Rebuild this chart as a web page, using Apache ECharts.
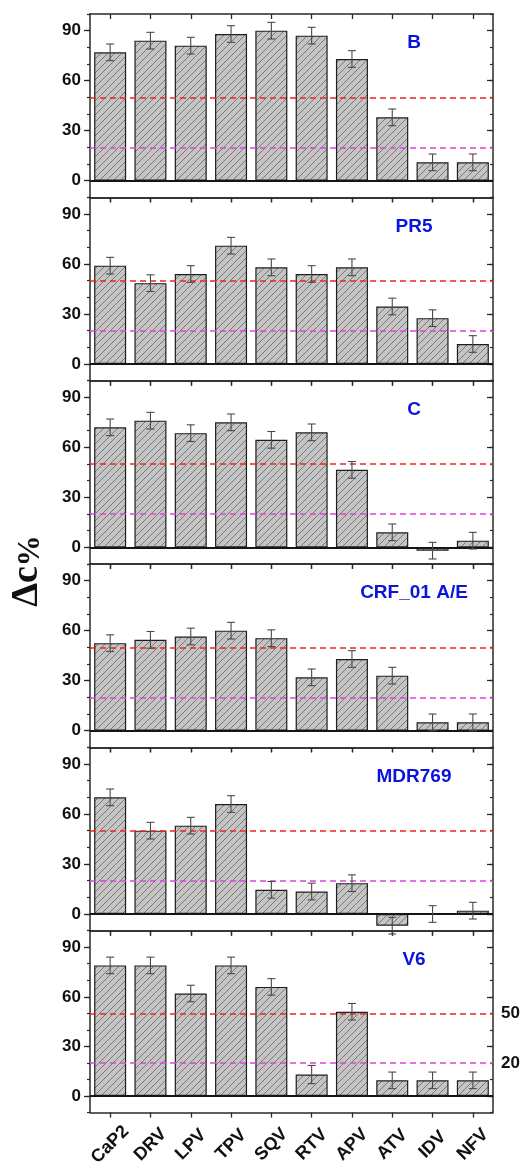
<!DOCTYPE html>
<html>
<head>
<meta charset="utf-8">
<script src="https://cdn.jsdelivr.net/npm/echarts@6/dist/echarts.min.js"></script>
<style>
html,body{margin:0;padding:0;background:#fff;}
#chart{width:527px;height:1169px;}
</style>
</head>
<body>
<div id="chart"></div>
<script>
// ---- data ----
const categories = ['CaP2','DRV','LPV','TPV','SQV','RTV','APV','ATV','IDV','NFV'];
const panelNames = ['B','PR5','C','CRF_01 A/E','MDR769','V6'];
const valuesB      = [77, 84, 81, 88, 90, 87, 73, 38, 11, 11];
const valuesPR5    = [59, 48.5, 54, 71, 58, 54, 58, 34.5, 27.5, 12];
const valuesC      = [72, 76, 68.5, 75, 64.5, 69, 46.5, 9, -2, 4];
const valuesCRF    = [52.5, 54.5, 56.5, 60, 55.5, 32, 43, 33, 5, 5];
const valuesMDR769 = [70, 50, 53, 66, 14.5, 13.5, 18.5, -7, 0, 2];
const valuesV6     = [79, 79, 62, 79, 66, 13, 51, 9.5, 9.5, 9.5];
const errorsB      = [5, 5, 5, 5, 5, 5, 5, 5, 5, 5];
const errorsPR5    = [5, 5, 5, 5, 5, 5, 5, 5, 5, 5];
const errorsC      = [5, 5, 5, 5, 5, 5, 5, 5, 5, 5];
const errorsCRF    = [5, 5, 5, 5, 5, 5, 5, 5, 5, 5];
const errorsMDR769 = [5, 5, 5, 5, 5, 5, 5, 5, 5, 5];
const errorsV6     = [5, 5, 5, 5, 5, 5.5, 5, 5, 5, 5];
const yTickLabels = [0, 30, 60, 90];
const thresholdHigh = 50;
const thresholdLow = 20;

const panelValues = [valuesB, valuesPR5, valuesC, valuesCRF, valuesMDR769, valuesV6];
const panelErrors = [errorsB, errorsPR5, errorsC, errorsCRF, errorsMDR769, errorsV6];

// ---- hatch pattern ----
function makeHatch(){
  const s = 7;
  const c = document.createElement('canvas');
  c.width = s; c.height = s;
  const g = c.getContext('2d');
  g.fillStyle = '#c4c4c4';
  g.fillRect(0,0,s,s);
  g.strokeStyle = '#606060';
  g.lineWidth = 0.75;
  g.beginPath();
  g.moveTo(-1, s+1); g.lineTo(s+1, -1);
  g.moveTo(-1, 1); g.lineTo(1, -1);
  g.moveTo(s-1, s+1); g.lineTo(s+1, s-1);
  g.stroke();
  return c;
}
const hatch = makeHatch();

const chart = echarts.init(document.getElementById('chart'), null, {renderer:'canvas'});

const N = panelNames.length;
const TOP = 14, PH = 1100 / 6, LEFT = 90, RIGHT = 34;
const axisColor = '#2a2a2a';
const FONT = 'Liberation Sans, Arial, sans-serif';

const grids = [], xAxes = [], yAxes = [], series = [], graphics = [];

for (let i = 0; i < N; i++) {
  const top = TOP + i * PH;
  grids.push({left: LEFT, right: RIGHT, top: top, height: PH, containLabel: false});
  const last = i === N - 1;
  // bottom x axis
  xAxes.push({
    type: 'category', gridIndex: i, data: categories, position: 'bottom',
    boundaryGap: true,
    axisLine: {show: true, onZero: false, lineStyle: {color: axisColor, width: 1.5}},
    axisTick: {show: true, alignWithLabel: true, inside: false, length: 5, lineStyle: {color: axisColor, width: 1.3}},
    axisLabel: last ? {
      show: true, rotate: 45, interval: 0, align: 'center', verticalAlign: 'middle', margin: 32,
      fontFamily: FONT, fontWeight: 'bold', fontSize: 18, color: '#111'
    } : {show: false},
    splitLine: {show: false}
  });
  // top x axis
  xAxes.push({
    type: 'category', gridIndex: i, data: categories, position: 'top',
    boundaryGap: true,
    axisLine: {show: true, onZero: false, lineStyle: {color: axisColor, width: 1.5}},
    axisTick: {show: true, alignWithLabel: true, inside: true, length: 5, lineStyle: {color: axisColor, width: 1.3}},
    axisLabel: {show: false},
    splitLine: {show: false}
  });
  const yBase = {type: 'value', gridIndex: i, min: -10, max: 100, splitLine: {show: false}};
  // left main (minor ticks + labels)
  yAxes.push(Object.assign({}, yBase, {
    position: 'left', interval: 10,
    axisLine: {show: true, onZero: false, lineStyle: {color: axisColor, width: 1.5}},
    axisTick: {show: true, inside: false, length: 3, lineStyle: {color: axisColor, width: 1.2}},
    axisLabel: {show: true, margin: 9, fontFamily: FONT, fontWeight: 'bold', fontSize: 17, color: '#111',
      formatter: v => yTickLabels.indexOf(v) >= 0 ? String(v) : ''}
  }));
  // left major ticks
  yAxes.push(Object.assign({}, yBase, {
    position: 'left',
    axisLine: {show: false},
    axisTick: {show: true, inside: false, length: 6, customValues: yTickLabels, lineStyle: {color: axisColor, width: 1.3}},
    axisLabel: {show: false}
  }));
  // right main
  yAxes.push(Object.assign({}, yBase, {
    position: 'right', interval: 10,
    axisLine: {show: true, onZero: false, lineStyle: {color: axisColor, width: 1.5}},
    axisTick: {show: true, inside: true, length: 3, lineStyle: {color: axisColor, width: 1.2}},
    axisLabel: {show: false}
  }));
  // right major ticks
  yAxes.push(Object.assign({}, yBase, {
    position: 'right',
    axisLine: {show: false},
    axisTick: {show: true, inside: true, length: 6, customValues: yTickLabels, lineStyle: {color: axisColor, width: 1.3}},
    axisLabel: {show: false}
  }));

  const vals = panelValues[i];
  const errs = panelErrors[i];
  const lineLabel = (txt) => last ? {show: true, position: 'end', formatter: txt, distance: 8,
    fontFamily: FONT, fontWeight: 'bold', fontSize: 17, color: '#111'} : {show: false};

  series.push({
    type: 'bar', xAxisIndex: 2 * i, yAxisIndex: 4 * i,
    data: vals, barWidth: 32,
    itemStyle: {color: {image: hatch, repeat: 'repeat'}, borderColor: '#1e1e1e', borderWidth: 1.2},
    emphasis: {disabled: true},
    silent: true, animation: false,
    markLine: {
      silent: true, symbol: 'none', animation: false,
      data: [
        {yAxis: 0, lineStyle: {color: '#151515', width: 1.8, type: 'solid'}, label: {show: false}},
        {yAxis: thresholdHigh, lineStyle: {color: '#ee2424', width: 1.5, type: [6, 4]}, label: lineLabel(String(thresholdHigh))},
        {yAxis: thresholdLow, lineStyle: {color: '#dd44dd', width: 1.5, type: [6, 4]}, label: lineLabel(String(thresholdLow))}
      ]
    }
  });

  series.push({
    type: 'custom', xAxisIndex: 2 * i, yAxisIndex: 4 * i,
    data: vals.map((v, k) => [k, v - errs[k], v + errs[k]]),
    silent: true, animation: false, z: 5,
    renderItem: function (params, api) {
      const x = api.value(0);
      const lo = api.coord([x, api.value(1)]);
      const hi = api.coord([x, api.value(2)]);
      const hw = 4;
      const st = {stroke: '#4a4a4a', lineWidth: 1.1};
      return {type: 'group', children: [
        {type: 'line', shape: {x1: lo[0], y1: lo[1], x2: hi[0], y2: hi[1]}, style: st},
        {type: 'line', shape: {x1: hi[0] - hw, y1: hi[1], x2: hi[0] + hw, y2: hi[1]}, style: st},
        {type: 'line', shape: {x1: lo[0] - hw, y1: lo[1], x2: lo[0] + hw, y2: lo[1]}, style: st}
      ]};
    }
  });

  graphics.push({
    type: 'text', x: 414, y: top + 29,
    style: {text: panelNames[i], fill: '#0a14dc', font: 'bold 19px Liberation Sans, Arial, sans-serif',
      align: 'center', verticalAlign: 'middle'}
  });
}

graphics.push({
  type: 'text', x: 27, y: 571, rotation: Math.PI / 2,
  style: {
    text: '{a|Δc}{b|%}', align: 'center', verticalAlign: 'middle',
    rich: {
      a: {font: 'bold 38px Liberation Serif, Times New Roman, serif', fill: '#111', verticalAlign: 'bottom'},
      b: {font: 'bold 31px Liberation Serif, Times New Roman, serif', fill: '#111', verticalAlign: 'bottom'}
    }
  }
});

chart.setOption({
  animation: false,
  backgroundColor: '#ffffff',
  grid: grids,
  xAxis: xAxes,
  yAxis: yAxes,
  series: series,
  graphic: graphics
});
</script>
</body>
</html>
